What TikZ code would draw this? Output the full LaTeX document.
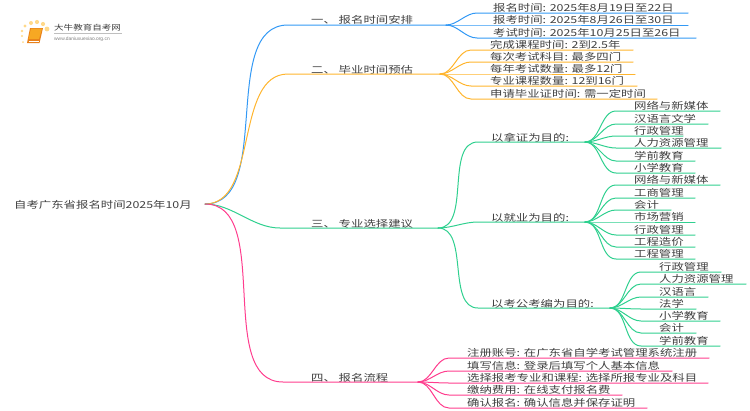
\documentclass[tikz,border=0pt]{standalone}
\usepackage{fontspec}
\setmainfont{Noto Sans CJK SC}[FakeStretch=1.29]
\newfontfamily\urlfont{Liberation Sans}
\definecolor{blueline}{HTML}{3399F5}
\definecolor{orangeline}{HTML}{FFB52E}
\definecolor{greenline}{HTML}{2FD08F}
\definecolor{pinkline}{HTML}{FF3D8E}
\definecolor{inkgray}{HTML}{404040}
\definecolor{bookdot}{HTML}{FFD98A}
\definecolor{bookface}{HTML}{F7A823}
\definecolor{bookedge}{HTML}{E8801A}
\tikzset{
  label/.style={anchor=base west,inner sep=0pt,text=inkgray,font=\fontsize{9.6}{10}\selectfont},
  wire/.style={line width=1pt,line cap=round},
  fan/.style={out=0,in=180,looseness=0.9}
}
\newcommand{\Leaf}[7]{\node[label] (#3) at (#4,#5-1.4) {#7}; \coordinate (#3e) at (#6,#5); \coordinate (#3b) at ($(#2)+(31,0)$); \draw[wire,#1] (#2) to[fan] (#3b |- #3e) -- (#3e);}
\usetikzlibrary{calc}
\begin{document}
\begin{tikzpicture}[x=1pt,y=-1pt]
      \useasboundingbox (0,0) rectangle (750,410);

      \node[label] (root) at (14,208) {自考广东省报名时间2025年10月};
      \coordinate (hub) at (205,204);

      \coordinate (a) at (446,25); \coordinate (b) at (440,74); \coordinate (c) at (438,228); \coordinate (d) at (418,382);
      \coordinate (c1) at (585,142); \coordinate (c2) at (585,222); \coordinate (c3) at (610,308);

      \node[label] (la) at (311,23) {一、 报名时间安排}; \node[label] (lb) at (311,73) {二、 毕业时间预估}; \node[label] (lc) at (311,227) {三、 专业选择建议}; \node[label] (ld) at (311,381) {四、 报名流程};
      \draw[wire,blueline] (hub) to[fan] (288,25) -- (a); \draw[wire,orangeline] (hub) to[fan] (288,74) -- (b); \draw[wire,greenline] (hub) to[fan] (280,228) -- (c); \draw[wire,pinkline] (hub) to[fan] (283,382) -- (d);

      \node[label] (lc1) at (491,141) {以拿证为目的:}; \node[label] (lc2) at (491,221) {以就业为目的:}; \node[label] (lc3) at (491,307) {以考公考编为目的:};
      \draw[wire,greenline] (c) to[fan] (478,142) -- (c1); \draw[wire,greenline] (c) to[fan] (478,222) -- (c2); \draw[wire,greenline] (c) to[fan] (478,308) -- (c3);

      \Leaf{blueline}{a}{a1}{493}{13}{688}{报名时间: 2025年8月19日至22日}
      \Leaf{blueline}{a}{a2}{493}{25}{688}{报考时间: 2025年8月26日至30日}
      \Leaf{blueline}{a}{a3}{493}{38}{696}{考试时间: 2025年10月25日至26日}

      \Leaf{orangeline}{b}{b1}{490}{50}{633}{完成课程时间: 2到2.5年}
      \Leaf{orangeline}{b}{b2}{490}{62}{633}{每次考试科目: 最多四门}
      \Leaf{orangeline}{b}{b3}{490}{74}{635}{每年考试数量: 最多12门}
      \Leaf{orangeline}{b}{b4}{490}{86}{637}{专业课程数量: 12到16门}
      \Leaf{orangeline}{b}{b5}{490}{99}{657}{申请毕业证时间: 需一定时间}

      \Leaf{greenline}{c1}{p1}{634}{111}{720}{网络与新媒体}
      \Leaf{greenline}{c1}{p2}{634}{124}{708}{汉语言文学}
      \Leaf{greenline}{c1}{p3}{634}{136}{683}{行政管理}
      \Leaf{greenline}{c1}{p4}{634}{148}{721}{人力资源管理}
      \Leaf{greenline}{c1}{p5}{634}{161}{695}{学前教育}
      \Leaf{greenline}{c1}{p6}{634}{173}{695}{小学教育}

      \Leaf{greenline}{c2}{q1}{634}{185}{720}{网络与新媒体}
      \Leaf{greenline}{c2}{q2}{634}{198}{695}{工商管理}
      \Leaf{greenline}{c2}{q3}{634}{210}{671}{会计}
      \Leaf{greenline}{c2}{q4}{634}{222}{695}{市场营销}
      \Leaf{greenline}{c2}{q5}{634}{235}{695}{行政管理}
      \Leaf{greenline}{c2}{q6}{634}{247}{695}{工程造价}
      \Leaf{greenline}{c2}{q7}{634}{259}{695}{工程管理}

      \Leaf{greenline}{c3}{r1}{659}{272}{721}{行政管理}
      \Leaf{greenline}{c3}{r2}{659}{284}{746}{人力资源管理}
      \Leaf{greenline}{c3}{r3}{659}{297}{708}{汉语言}
      \Leaf{greenline}{c3}{r4}{659}{309}{696}{法学}
      \Leaf{greenline}{c3}{r5}{659}{321}{720}{小学教育}
      \Leaf{greenline}{c3}{r6}{659}{333}{696}{会计}
      \Leaf{greenline}{c3}{r7}{659}{346}{720}{学前教育}

      \Leaf{pinkline}{d}{s1}{467}{358}{709}{注册账号: 在广东省自学考试管理系统注册}
      \Leaf{pinkline}{d}{s2}{467}{371}{672}{填写信息: 登录后填写个人基本信息}
      \Leaf{pinkline}{d}{s3}{467}{383}{708}{选择报考专业和课程: 选择所报专业及科目}
      \Leaf{pinkline}{d}{s4}{467}{395}{622}{缴纳费用: 在线支付报名费}
      \Leaf{pinkline}{d}{s5}{467}{408}{647}{确认报名: 确认信息并保存证明}

      \fill[bookdot] (25,26) circle (1.6) (31,23) circle (2) (37,22) circle (2.1) (43,24) circle (2.1) (47,29) circle (2.4) (22,31) circle (1.4) (22,36) circle (1.2) (23,42) circle (1);
      \fill[bookedge] (30,28) -- (43,28) -- (39.5,43) -- (27,43) -- cycle;
      \fill[bookface] (31,28.5) -- (42,28.5) -- (39,39) -- (28.5,39) -- cycle;
      \draw[white,line width=0.6pt] (28.5,40.8) -- (38.8,40.8);
      \node[anchor=base west,inner sep=0pt,text=inkgray,font=\fontsize{7.4}{8}\selectfont] (logo) at (54,30) {大牛教育自考网};
      \draw[gray!50,line width=0.4pt] (54,33.5) -- (122,33.5);
      \node[anchor=base west,inner sep=0pt,text=gray,font=\urlfont\fontsize{4.9}{5}\selectfont] (logourl) at (54,40) {www.daniuxuexiao.org.cn};
\end{tikzpicture}
\end{document}
